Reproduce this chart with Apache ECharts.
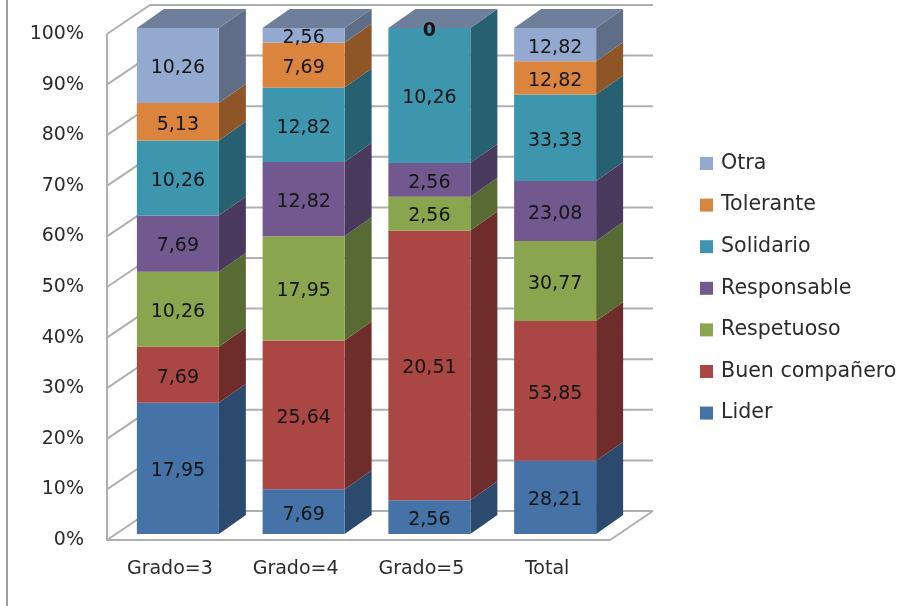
<!DOCTYPE html>
<html>
<head>
<meta charset="utf-8">
<title>Grado</title>
<script src="https://cdn.jsdelivr.net/npm/echarts@6/dist/echarts.min.js"></script>
<style>
html,body{margin:0;padding:0;background:#fff;}
#main{width:913px;height:606px;}
</style>
</head>
<body>
<div id="main"></div>
<script>
var categories = ['Grado=3', 'Grado=4', 'Grado=5', 'Total'];
var names = ['Lider', 'Buen compañero', 'Respetuoso', 'Responsable', 'Solidario', 'Tolerante', 'Otra'];
var lider = [17.95, 7.69, 2.56, 28.21];
var buenCompanero = [7.69, 25.64, 20.51, 53.85];
var respetuoso = [10.26, 17.95, 2.56, 30.77];
var responsable = [7.69, 12.82, 2.56, 23.08];
var solidario = [10.26, 12.82, 10.26, 33.33];
var tolerante = [5.13, 7.69, null, 12.82];
var otra = [10.26, 2.56, 0, 12.82];
var ticks = [0, 10, 20, 30, 40, 50, 60, 70, 80, 90, 100];

var values = [lider, buenCompanero, respetuoso, responsable, solidario, tolerante, otra];
var colors = ['#4572a7', '#aa4643', '#89a54e', '#71588f', '#3d96ae', '#db843d', '#93a9cf'];
var sideColors = ['#2c4a6e', '#6e2d2b', '#586b33', '#49395d', '#276171', '#8e5527', '#5f6e86'];
var topColor = '#6e7f9b';
var gridColor = '#b0b0b0';
var textColor = '#2b2b2b';
var labelColor = '#151515';
var fontName = 'DejaVu Sans';

// caras de la barra respecto al plano frontal del eje
var frontDx = 8, frontDy = -6;
var barDx = 27, barDy = -19;
var wallDx = 43, wallDy = -29;
var barRatio = 0.652;

function fmt(v) {
	return v === 0 ? '0' : v.toFixed(2).replace('.', ',');
}

// apilado al 100%
var totals = categories.map(function (c, i) {
	return values.reduce(function (s, arr) { return s + (arr[i] || 0); }, 0);
});

function stackData(k) {
	return categories.map(function (c, i) {
		var start = 0;
		for (var j = 0; j < k; j++) start += values[j][i] || 0;
		var v = values[k][i] || 0;
		return [i, start / totals[i] * 100, (start + v) / totals[i] * 100];
	});
}

function renderBar(k) {
	return function (params, api) {
		var raw = values[k][params.dataIndex];
		if (raw === null) return;
		var low = api.coord([api.value(0), api.value(1)]);
		var high = api.coord([api.value(0), api.value(2)]);
		var w = api.size([1, 0])[0] * barRatio;
		var x0 = low[0] - w / 2 + frontDx, x1 = x0 + w;
		var y0 = low[1] + frontDy, y1 = high[1] + frontDy;
		var kids = [
			{ type: 'polygon', shape: { points: [[x1, y0], [x1 + barDx, y0 + barDy], [x1 + barDx, y1 + barDy], [x1, y1]] },
				style: { fill: sideColors[k] } },
			{ type: 'rect', shape: { x: x0, y: y1, width: w, height: y0 - y1 }, style: { fill: colors[k] } }
		];
		if (k === values.length - 1) {
			kids.push({ type: 'polygon', shape: { points: [[x0, y1], [x0 + barDx, y1 + barDy], [x1 + barDx, y1 + barDy], [x1, y1]] },
				style: { fill: topColor } });
		}
		kids.push({ type: 'text', z2: 10, style: {
			x: (x0 + x1) / 2, y: (y0 + y1) / 2 + 3, text: fmt(raw), align: 'center', verticalAlign: 'middle',
			fill: labelColor, font: (raw === 0 ? 'bold ' : '') + '19px "' + fontName + '"' } });
		return { type: 'group', children: kids };
	};
}

function renderWall(params, api) {
	var box = params.coordSys;
	var p = api.coord([0, api.value(0)]);
	var x0 = box.x, x1 = box.x + box.width, y = p[1];
	var line = { stroke: gridColor, lineWidth: 2, fill: null };
	var kids = [{ type: 'polyline', shape: { points: [[x0, y], [x0 + wallDx, y + wallDy], [x1 + wallDx, y + wallDy]] }, style: line }];
	if (api.value(0) === 0) {
		kids.push({ type: 'polyline', shape: { points: [[x0, box.y], [x0, y], [x1, y], [x1 + wallDx, y + wallDy]] }, style: line });
	}
	return { type: 'group', children: kids };
}

var series = [{
	type: 'custom',
	name: 'wall',
	coordinateSystem: 'cartesian2d',
	silent: true,
	clip: false,
	z: 1,
	renderItem: renderWall,
	encode: { y: 0 },
	data: ticks.map(function (t) { return [t]; })
}];

names.forEach(function (name, k) {
	series.push({
		type: 'custom',
		name: name,
		coordinateSystem: 'cartesian2d',
		clip: false,
		z: 2,
		itemStyle: { color: colors[k] },
		encode: { x: 0, y: [1, 2] },
		renderItem: renderBar(k),
		data: stackData(k)
	});
});

var myChart = echarts.init(document.getElementById('main'));
myChart.setOption({
	backgroundColor: '#fff',
	animation: false,
	graphic: [{ type: 'line', shape: { x1: 7, y1: 0, x2: 7, y2: 606 }, style: { stroke: '#a0a0a0', lineWidth: 2 } }],
	grid: { left: 107, right: 303, top: 34, bottom: 66 },
	legend: {
		orient: 'vertical',
		left: 695,
		top: 148,
		icon: 'rect',
		itemWidth: 13,
		itemHeight: 13,
		itemGap: 20.6,
		selectedMode: false,
		data: names.slice().reverse(),
		textStyle: { color: textColor, fontFamily: fontName, fontSize: 20.6, lineHeight: 20, padding: [0, 0, 0, 3] }
	},
	xAxis: {
		type: 'category',
		data: categories,
		axisLine: { show: false },
		axisTick: { show: false },
		axisLabel: { color: textColor, fontFamily: fontName, fontSize: 19, margin: 20 }
	},
	yAxis: {
		type: 'value',
		min: 0,
		max: 100,
		interval: 10,
		axisLine: { show: false },
		axisTick: { show: false },
		splitLine: { show: false },
		axisLabel: { color: textColor, fontFamily: fontName, fontSize: 19, margin: 23, padding: [4, 0, 0, 0], formatter: '{value}%' }
	},
	series: series
});
</script>
</body>
</html>
